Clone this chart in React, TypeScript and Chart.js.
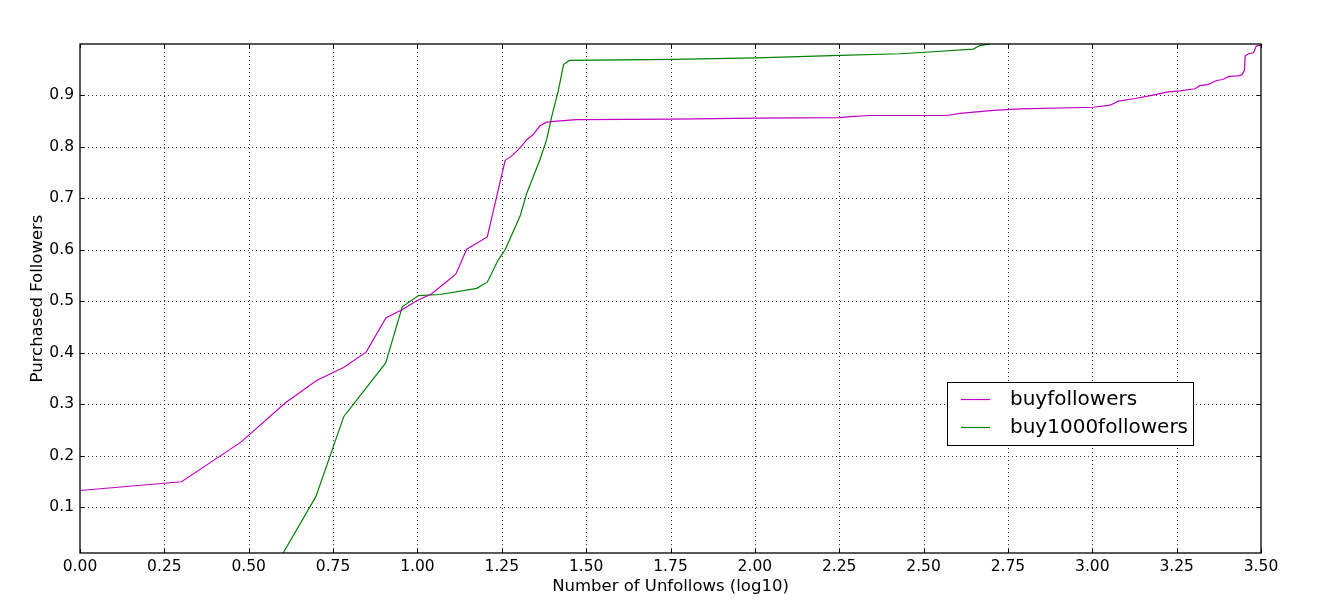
import React, { useEffect, useRef } from "react";
import { Chart, registerables } from "chart.js";

Chart.register(...registerables);

// buyfollowers (magenta)
const buyfollowersX = [0.0, 0.301, 0.477, 0.608, 0.701, 0.781, 0.848, 0.907, 0.953, 0.998, 1.041, 1.079, 1.114, 1.146, 1.207, 1.26, 1.279, 1.304, 1.324, 1.343, 1.363, 1.383, 1.413, 1.472, 1.757, 2.005, 2.253, 2.282, 2.341, 2.569, 2.608, 2.707, 2.786, 3.003, 3.053, 3.077, 3.127, 3.176, 3.225, 3.26, 3.305, 3.318, 3.343, 3.368, 3.387, 3.405, 3.431, 3.443, 3.451, 3.453, 3.463, 3.478, 3.486, 3.5];
const buyfollowersY = [0.132, 0.149, 0.226, 0.302, 0.346, 0.371, 0.401, 0.468, 0.483, 0.501, 0.514, 0.534, 0.553, 0.601, 0.625, 0.774, 0.782, 0.798, 0.814, 0.824, 0.841, 0.848, 0.85, 0.853, 0.854, 0.856, 0.857, 0.859, 0.861, 0.861, 0.865, 0.871, 0.874, 0.877, 0.881, 0.889, 0.894, 0.9, 0.907, 0.909, 0.913, 0.919, 0.921, 0.929, 0.931, 0.937, 0.938, 0.94, 0.949, 0.977, 0.981, 0.983, 0.996, 0.998];

// buy1000followers (green)
const buy1000X = [0.602, 0.699, 0.782, 0.906, 0.955, 1.003, 1.067, 1.176, 1.207, 1.24, 1.26, 1.304, 1.324, 1.363, 1.383, 1.398, 1.418, 1.433, 1.45, 1.757, 2.005, 2.253, 2.43, 2.504, 2.647, 2.667, 2.697];
const buy1000Y = [0.0105, 0.12, 0.276, 0.38, 0.489, 0.511, 0.513, 0.525, 0.537, 0.581, 0.6, 0.665, 0.71, 0.775, 0.814, 0.859, 0.911, 0.96, 0.968, 0.97, 0.973, 0.978, 0.981, 0.984, 0.99, 0.997, 1.0];

const xTicks = [0, 0.25, 0.5, 0.75, 1.0, 1.25, 1.5, 1.75, 2.0, 2.25, 2.5, 2.75, 3.0, 3.25, 3.5];
const yTicks = [0.1, 0.2, 0.3, 0.4, 0.5, 0.6, 0.7, 0.8, 0.9];
const seriesLabels = ["buyfollowers", "buy1000followers"];
const seriesColors = ["#bf00bf", "#008000"];

const FONT = "'DejaVu Sans', sans-serif";

const framePlugin = {
  id: "mplFrame",
  beforeDatasetsDraw(chart: any) {
    const { ctx, chartArea } = chart;
    const { left, right, top, bottom } = chartArea;
    const xs = chart.scales.x;
    const ys = chart.scales.y;
    ctx.save();
    ctx.strokeStyle = "rgba(0,0,0,0.8)";
    ctx.lineWidth = 1;
    ctx.setLineDash([1, 3]);
    for (const v of xTicks) {
      const p = Math.round(xs.getPixelForValue(v)) + 0.5;
      if (p <= left + 1 || p >= right - 1) continue;
      ctx.beginPath();
      ctx.moveTo(p, top);
      ctx.lineTo(p, bottom);
      ctx.stroke();
    }
    for (const v of yTicks) {
      const p = Math.round(ys.getPixelForValue(v)) + 0.5;
      ctx.beginPath();
      ctx.moveTo(left, p);
      ctx.lineTo(right, p);
      ctx.stroke();
    }
    ctx.restore();
  },
  afterDatasetsDraw(chart: any) {
    const { ctx, chartArea } = chart;
    const { left, right, top, bottom } = chartArea;
    const xs = chart.scales.x;
    const ys = chart.scales.y;
    ctx.save();
    ctx.setLineDash([]);
    ctx.strokeStyle = "#000";
    ctx.lineWidth = 1;
    // tick marks inward on all sides
    for (const v of xTicks) {
      const p = Math.round(xs.getPixelForValue(v)) + 0.5;
      ctx.beginPath();
      ctx.moveTo(p, bottom);
      ctx.lineTo(p, bottom - 4);
      ctx.moveTo(p, top);
      ctx.lineTo(p, top + 4);
      ctx.stroke();
    }
    for (const v of yTicks) {
      const p = Math.round(ys.getPixelForValue(v)) + 0.5;
      ctx.beginPath();
      ctx.moveTo(left, p);
      ctx.lineTo(left + 4, p);
      ctx.moveTo(right, p);
      ctx.lineTo(right - 4, p);
      ctx.stroke();
    }
    // frame
    ctx.lineWidth = 1.3;
    ctx.strokeRect(left, top, right - left, bottom - top);

    // legend
    const bx = 947.5, by = 382.5, bw = 246, bh = 63;
    ctx.fillStyle = "#fff";
    ctx.fillRect(bx, by, bw, bh);
    ctx.strokeStyle = "#000";
    ctx.lineWidth = 1;
    ctx.strokeRect(bx, by, bw, bh);
    const rowsY = [399, 427];
    ctx.font = `20px ${FONT}`;
    ctx.textBaseline = "middle";
    ctx.textAlign = "left";
    for (let i = 0; i < seriesLabels.length; i++) {
      ctx.beginPath();
      ctx.strokeStyle = seriesColors[i];
      ctx.lineWidth = 1.2;
      ctx.moveTo(961, rowsY[i] + 0.5);
      ctx.lineTo(990, rowsY[i] + 0.5);
      ctx.stroke();
      ctx.closePath();
      ctx.fillStyle = "#000";
      ctx.fillText(seriesLabels[i], 1010, rowsY[i] + 1);
    }
    ctx.restore();
  },
};

export default function App() {
  const ref = useRef<HTMLCanvasElement | null>(null);
  useEffect(() => {
    if (!ref.current) return;
    const mk = (xa: number[], ya: number[]) => xa.map((x, i) => ({ x, y: ya[i] }));
    const chart = new Chart(ref.current, {
      type: "line",
      data: {
        datasets: [
          {
            label: seriesLabels[0],
            data: mk(buyfollowersX, buyfollowersY),
            borderColor: seriesColors[0],
            backgroundColor: seriesColors[0],
            borderWidth: 1.2,
            pointRadius: 0,
            tension: 0,
            fill: false,
          },
          {
            label: seriesLabels[1],
            data: mk(buy1000X, buy1000Y),
            borderColor: seriesColors[1],
            backgroundColor: seriesColors[1],
            borderWidth: 1.2,
            pointRadius: 0,
            tension: 0,
            fill: false,
          },
        ],
      },
      options: {
        animation: false,
        responsive: false,
        maintainAspectRatio: false,
        events: [],
        layout: { padding: { left: 0, right: 59, top: 44, bottom: 0 } },
        plugins: { legend: { display: false }, tooltip: { enabled: false } },
        scales: {
          x: {
            type: "linear",
            min: 0,
            max: 3.5,
            afterFit: (s: any) => {
              s.height = 62;
            },
            afterBuildTicks: (s: any) => {
              s.ticks = xTicks.map((v) => ({ value: v }));
            },
            grid: { display: false, drawTicks: false },
            border: { display: false },
            ticks: {
              padding: 5,
              color: "#000",
              font: { family: FONT, size: 15.5 },
              maxRotation: 0,
              autoSkip: false,
              callback: (v: any) => Number(v).toFixed(2),
            },
            title: {
              display: true,
              text: "Number of Unfollows (log10)",
              color: "#000",
              font: { family: FONT, size: 16.5 },
              padding: { top: 0, bottom: 18 },
            },
          },
          y: {
            type: "linear",
            min: 0.0105,
            max: 1.0,
            afterFit: (s: any) => {
              s.width = 80;
            },
            afterBuildTicks: (s: any) => {
              s.ticks = yTicks.map((v) => ({ value: v }));
            },
            grid: { display: false, drawTicks: false },
            border: { display: false },
            ticks: {
              padding: 6,
              color: "#000",
              font: { family: FONT, size: 15.5 },
              autoSkip: false,
              callback: (v: any) => Number(v).toFixed(1),
            },
            title: {
              display: true,
              text: "Purchased Followers",
              color: "#000",
              font: { family: FONT, size: 16.5 },
              padding: { top: 28, bottom: 0 },
            },
          },
        },
      },
      plugins: [framePlugin],
    });
    return () => chart.destroy();
  }, []);
  return (
    <div style={{ position: "absolute", left: 0, top: 0, width: 1320, height: 615, background: "#fff" }}>
      <canvas ref={ref} width={1320} height={615} style={{ display: "block" }} />
    </div>
  );
}
